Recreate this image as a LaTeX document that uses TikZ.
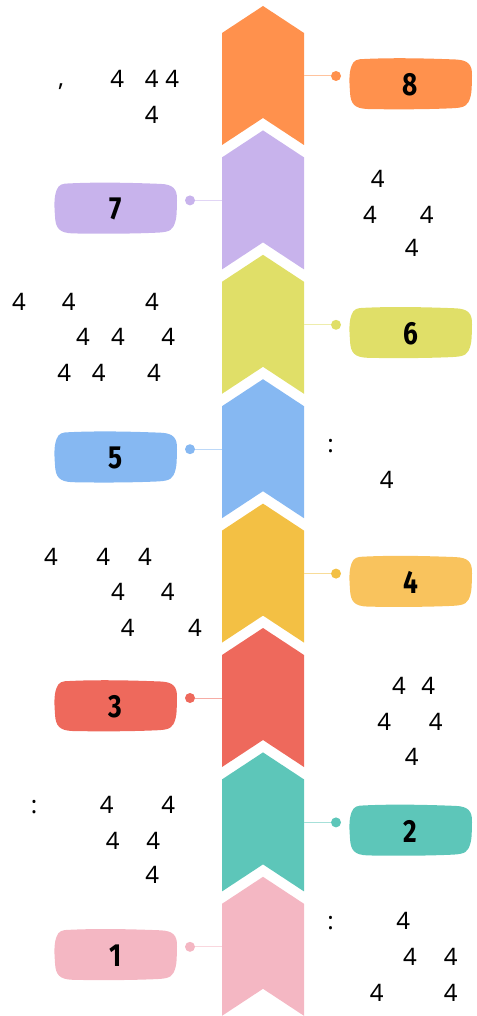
\documentclass[tikz,border=0pt]{standalone}
\usepackage{fontspec}
\setmainfont{Noto Sans}
\newfontfamily\labfont{Fira Sans}[FakeStretch=0.82]
\definecolor{corange}{HTML}{FF914D}
\definecolor{cpurple}{HTML}{C8B3EC}
\definecolor{cyellow}{HTML}{E0DF68}
\definecolor{cblue}{HTML}{86B8F2}
\definecolor{cgold}{HTML}{F3C044}
\definecolor{cgoldlab}{HTML}{F9C35D}
\definecolor{cred}{HTML}{EE695C}
\definecolor{cteal}{HTML}{5DC6B9}
\definecolor{cpink}{HTML}{F4B7C3}
\tikzset{
  txt/.style={font=\fontsize{24}{28}\selectfont, inner sep=0pt, anchor=base, text=black},
  labtxt/.style={font=\labfont\bfseries\fontsize{32}{34}\selectfont, inner sep=0pt, text=black},
  dotnode/.style={circle, inner sep=0pt, minimum size=10pt},
  conn/.style={line width=1pt}
}
\newcommand\mkblob[3]{%
  \fill[#3, shift={(#1,#2)}] (-46,-25) .. controls (-15,-26.5) and (20,-25.5) .. (45,-24.5)
    .. controls (57,-24) and (62,-20) .. (61.5,-8)
    .. controls (61,2) and (62,10) .. (58,18)
    .. controls (55,24) and (48,24) .. (36,24.5)
    .. controls (10,25.5) and (-20,25.5) .. (-43,25)
    .. controls (-56,24.5) and (-60,20) .. (-60.5,8)
    .. controls (-61,0) and (-62,-10) .. (-59,-18)
    .. controls (-57,-24) and (-53,-25) .. (-46,-25) -- cycle;}
\begin{document}
\begin{tikzpicture}[x=1pt,y=-1pt]
\useasboundingbox (0,0) rectangle (476,1016);
\foreach \k/\n/\c/\lc/\s in {0/8/corange/corange/1, 1/7/cpurple/cpurple/-1, 2/6/cyellow/cyellow/1, 3/5/cblue/cblue/-1, 4/4/cgold/cgoldlab/1, 5/3/cred/cred/-1, 6/2/cteal/cteal/1, 7/1/cpink/cpink/-1} {
  \pgfmathsetmacro\t{6+124.4*\k}
  \fill[\c] (222,\t+27) -- (263,\t) -- (304,\t+27) -- (304,\t+139) -- (263,\t+112) -- (222,\t+139) -- cycle;
  \coordinate (edge\n) at ({263+41*\s},\t+70);
  \node[dotnode, fill=\c] (dot\n) at ({263+73*\s},\t+70) {};
  \draw[conn, draw=\c!55] (edge\n) -- (dot\n);
  \mkblob{263+147.5*\s}{\t+78}{\lc}
  \node[labtxt] (lab\n) at ({263+147.5*\s},\t+79) {\n};
}
% block 8
\node[txt] (comma8) at (61,86.5) {,};
\foreach \x/\y [count=\i] in {117.3/87.3, 151.7/87.3, 172.3/87.3, 151.7/123.3}
  \node[txt] (a\i) at (\x,\y) {4};
% block 7
\foreach \x/\y [count=\i] in {377.7/187.3, 370/223.3, 426.7/223.3, 411.7/256.7}
  \node[txt] (b\i) at (\x,\y) {4};
% block 6
\foreach \x/\y [count=\i] in {19/310, 68.7/310, 152/310, 83/345.7, 118/345.7, 168.3/345.7, 64.3/381.7, 98.7/381.7, 154/381.7}
  \node[txt] (c\i) at (\x,\y) {4};
% block 5
\node[txt] (colon5) at (330.7,452.5) {:};
\node[txt] (d1) at (386.7,488.3) {4};
% block 4
\foreach \x/\y [count=\i] in {51/565.7, 103.3/565.7, 145/565.7, 118/600.7, 167.7/600.7, 127.7/636.7, 195/636.7}
  \node[txt] (e\i) at (\x,\y) {4};
% block 3
\foreach \x/\y [count=\i] in {399/694, 428.3/694, 384.3/730, 435.7/730, 411.7/765}
  \node[txt] (f\i) at (\x,\y) {4};
% block 2
\node[txt] (colon2) at (34,813.3) {:};
\foreach \x/\y [count=\i] in {106.7/813.3, 168.3/813.3, 112.7/849, 153.3/849, 152.3/883.3}
  \node[txt] (g\i) at (\x,\y) {4};
% block 1
\node[txt] (colon1) at (330.7,929.3) {:};
\foreach \x/\y [count=\i] in {403.3/929.3, 410/965.7, 450.7/965.7, 376.7/1001.7, 450.7/1001.7}
  \node[txt] (h\i) at (\x,\y) {4};
\end{tikzpicture}
\end{document}
